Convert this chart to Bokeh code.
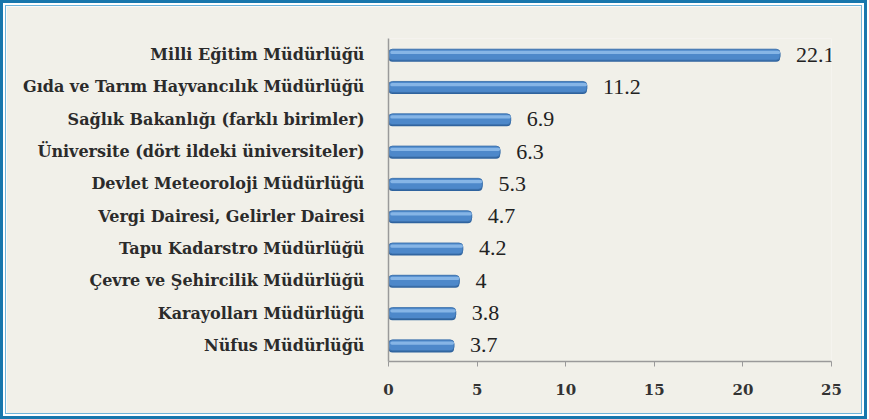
from bokeh.plotting import figure
from bokeh.models import ColumnDataSource, FixedTicker, LabelSet, Column
from bokeh.transform import dodge
from bokeh.embed import file_html
from bokeh.resources import INLINE

categories = [
    "Milli Eğitim Müdürlüğü",
    "Gıda ve Tarım Hayvancılık Müdürlüğü",
    "Sağlık Bakanlığı (farklı birimler)",
    "Üniversite (dört ildeki üniversiteler)",
    "Devlet Meteoroloji Müdürlüğü",
    "Vergi Dairesi, Gelirler Dairesi",
    "Tapu Kadarstro Müdürlüğü",
    "Çevre ve Şehircilik Müdürlüğü",
    "Karayolları Müdürlüğü",
    "Nüfus Müdürlüğü",
]
values = [22.1, 11.2, 6.9, 6.3, 5.3, 4.7, 4.2, 4.0, 3.8, 3.7]
value_labels = ["22.1", "11.2", "6.9", "6.3", "5.3", "4.7", "4.2", "4", "3.8", "3.7"]
x_ticks = [0, 5, 10, 15, 20, 25]

BG = "#f1f0e9"
src = ColumnDataSource(dict(cat=categories, val=values, lab=value_labels))

p = figure(
    y_range=list(reversed(categories)), x_range=(0, 25),
    width=857, height=409, output_backend="svg", toolbar_location=None,
    min_border_left=382, min_border_right=32, min_border_top=32, min_border_bottom=54,
    background_fill_color=BG, border_fill_color=BG,
)
p.outline_line_color = None
p.grid.grid_line_color = None

# bars (body + darker shadow + highlight)
p.hbar(y=dodge("cat", -0.03, range=p.y_range), left=0, right="val", height=0.38, source=src,
       fill_color="#2f639e", line_color=None, border_radius=4)
p.hbar(y="cat", left=0, right="val", height=0.34, source=src,
       fill_color="#4d88ca", line_color="#3b6fa8", line_width=0.8, border_radius=4)
p.hbar(y=dodge("cat", 0.07, range=p.y_range), left=0.1, right="val", height=0.1, source=src,
       fill_color="#86b5e6", line_color=None, border_radius=2)

labels = LabelSet(x="val", y="cat", text="lab", source=src, x_offset=16, y_offset=0,
                  text_baseline="middle", text_font="DejaVu Serif", text_font_size="22px",
                  text_color="#222222")
p.add_layout(labels)

p.xaxis.ticker = FixedTicker(ticks=x_ticks)
p.xaxis.axis_line_color = "#9a9a9a"
p.xaxis.axis_line_width = 1.5
p.xaxis.major_tick_line_color = "#9a9a9a"
p.xaxis.major_tick_out = 5
p.xaxis.major_tick_in = 0
p.xaxis.minor_tick_line_color = None
p.xaxis.major_label_standoff = 17
p.xaxis.major_label_text_font = "DejaVu Serif"
p.xaxis.major_label_text_font_style = "bold"
p.xaxis.major_label_text_font_size = "15px"
p.xaxis.major_label_text_color = "#333333"

p.yaxis.axis_line_color = "#9a9a9a"
p.yaxis.axis_line_width = 1.5
p.yaxis.major_tick_line_color = None
p.yaxis.major_label_standoff = 18
p.yaxis.major_label_text_font = "DejaVu Serif"
p.yaxis.major_label_text_font_style = "bold"
p.yaxis.major_label_text_font_size = "16px"
p.yaxis.major_label_text_color = "#2b2b2b"

p.styles = {"border": "1px solid #6fb4da"}
layout = Column(p, styles={"border": "3px solid #1877ad", "padding": "2px", "background": "#ffffff"})

open("out.html", "w").write(file_html(layout, INLINE))
